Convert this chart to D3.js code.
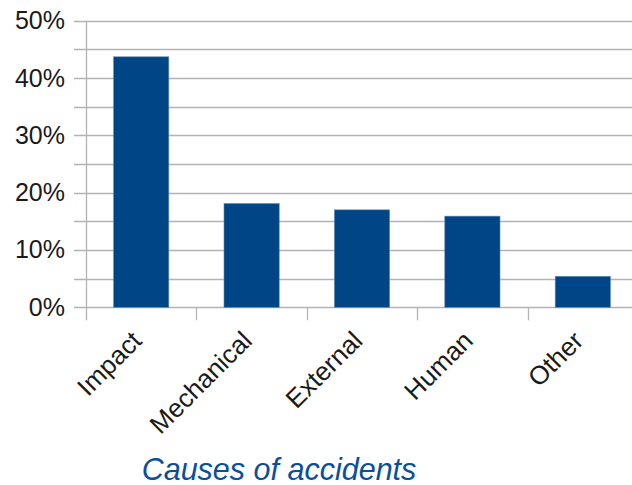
<!DOCTYPE html>
<html>
<head>
<meta charset="utf-8">
<script src="https://cdn.jsdelivr.net/npm/d3@7"></script>
<style>
  body { margin: 0; background: #fff; }
  text { font-family: "Liberation Sans", Arial, sans-serif; }
</style>
</head>
<body>
<div id="chart"></div>
<script>
// data
var causes = ["Impact", "Mechanical", "External", "Human", "Other"];
var shares = [0.437, 0.181, 0.170, 0.159, 0.054];
var yTicks = [0, 0.1, 0.2, 0.3, 0.4, 0.5];
var gridTicks = [0, 0.05, 0.1, 0.15, 0.2, 0.25, 0.3, 0.35, 0.4, 0.45, 0.5];
var chartTitle = "Causes of accidents";

var width = 632, height = 485;
var margin = {top: 20.7, right: -6, bottom: 177.7, left: 86};

var svg = d3.select("#chart")
  .append("svg")
  .attr("width", width)
  .attr("height", height);

var xScale = d3.scaleBand()
  .domain(causes)
  .range([margin.left, width - margin.right])
  .paddingInner(0.5)
  .paddingOuter(0.25);

var yScale = d3.scaleLinear()
  .domain([0, 0.5])
  .range([height - margin.bottom, margin.top]);

var gridColor = "#b3b3b3";

// horizontal grid, sticking out left of the axis a bit
svg.append("g")
  .attr("class", "grid")
  .selectAll("line")
  .data(gridTicks)
  .enter()
  .append("line")
  .attr("x1", margin.left - 12)
  .attr("x2", width - margin.right)
  .attr("y1", d => Math.round(yScale(d)) + 0.5)
  .attr("y2", d => Math.round(yScale(d)) + 0.5)
  .attr("stroke", gridColor)
  .attr("stroke-width", 1.3);

// y axis line
svg.append("line")
  .attr("x1", margin.left + 0.5)
  .attr("x2", margin.left + 0.5)
  .attr("y1", yScale(0.5))
  .attr("y2", yScale(0) + 13)
  .attr("stroke", gridColor)
  .attr("stroke-width", 1.3);

// x tick marks between categories
svg.append("g")
  .selectAll("line")
  .data(causes.slice(1))
  .enter()
  .append("line")
  .attr("x1", d => Math.round(xScale(d) - xScale.bandwidth() / 2) + 0.5)
  .attr("x2", d => Math.round(xScale(d) - xScale.bandwidth() / 2) + 0.5)
  .attr("y1", yScale(0))
  .attr("y2", yScale(0) + 13)
  .attr("stroke", gridColor)
  .attr("stroke-width", 1.3);

// y labels
var yAxis = d3.axisLeft(yScale)
  .tickValues(yTicks)
  .tickFormat(d3.format(".0%"))
  .tickSize(0)
  .tickPadding(21);

svg.append("g")
  .attr("transform", `translate(${margin.left},0)`)
  .call(yAxis)
  .call(g => g.select(".domain").remove())
  .selectAll("text")
  .attr("font-family", "Liberation Sans, Arial, sans-serif")
  .attr("font-size", "25px")
  .attr("fill", "#1a1a1a");

// bars
svg.selectAll("bars")
  .data(causes)
  .enter()
  .append("rect")
  .attr("x", d => xScale(d))
  .attr("y", (d, i) => yScale(shares[i]))
  .attr("width", xScale.bandwidth())
  .attr("height", (d, i) => yScale(0) - yScale(shares[i]))
  .style("fill", "#004586")
  .style("stroke", "#5d86b3")
  .style("stroke-width", 0.6);

// rotated category labels
svg.selectAll("xlabels")
  .data(causes)
  .enter()
  .append("text")
  .text(d => d)
  .attr("font-size", "26px")
  .attr("fill", "#1a1a1a")
  .attr("text-anchor", "end")
  .attr("transform", d => `translate(${xScale(d) + xScale.bandwidth() / 2 + 2},${yScale(0) + 35}) rotate(-45)`);

// caption under the chart
svg.append("text")
  .text(chartTitle)
  .attr("x", 279)
  .attr("y", 480)
  .attr("text-anchor", "middle")
  .attr("font-size", "30.5px")
  .attr("font-style", "italic")
  .attr("fill", "#0b4e9b");
</script>
</body>
</html>
